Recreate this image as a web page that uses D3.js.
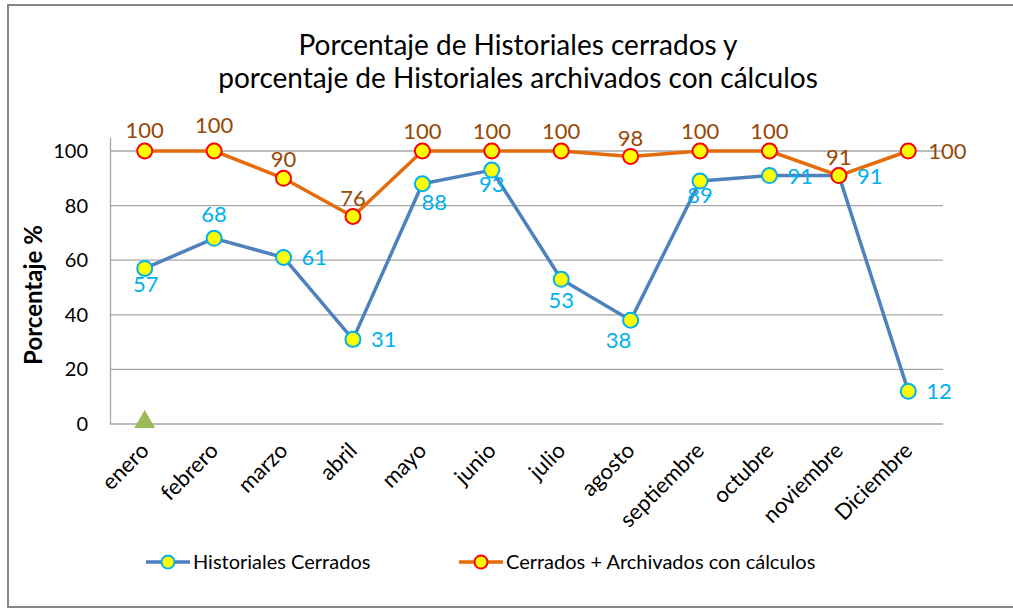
<!DOCTYPE html>
<html><head><meta charset="utf-8">
<script src="https://cdn.jsdelivr.net/npm/d3@7"></script>
<style>body{margin:0;background:#fff}svg{display:block}text{font-family:Lato,"Open Sans",sans-serif}</style>
</head><body>
<svg id="c" width="1013" height="609"></svg>
<script>
const months = ["enero","febrero","marzo","abril","mayo","junio","julio","agosto","septiembre","octubre","noviembre","Diciembre"];
const cerrados = [57,68,61,31,88,93,53,38,89,91,91,12];
const cerradosArchivados = [100,100,90,76,100,100,100,98,100,100,91,100];
const marcador = [0,null,null,null,null,null,null,null,null,null,null,null];
const yTicks = [0,20,40,60,80,100];
const titleLines = ["Porcentaje de Historiales cerrados y","porcentaje de Historiales archivados con cálculos"];
const yTitle = "Porcentaje %";
const seriesNames = ["Historiales Cerrados","Cerrados + Archivados con cálculos"];
// label placement (dx, dy relative to point, anchor)
const posCerrados = [[1,24,"middle"],[0,-16,"middle"],[18,8,"start"],[18,8,"start"],[12,26,"middle"],[0,22,"middle"],[0,29,"middle"],[-12,28,"middle"],[0,22,"middle"],[18,8,"start"],[18,8,"start"],[18,8,"start"]];
const posArch = [[0,-13,"middle"],[0,-18,"middle"],[0,-11,"middle"],[0,-11,"middle"],[0,-12,"middle"],[0,-12,"middle"],[0,-12,"middle"],[0,-10,"middle"],[0,-12,"middle"],[0,-12,"middle"],[0,-11,"middle"],[20,8,"start"]];

const svg = d3.select("#c");
svg.append("rect").attr("x",8).attr("y",5).attr("width",1010).attr("height",602)
  .attr("fill","#fff").attr("stroke","#868686").attr("stroke-width",2);

const L=110, R=943, T=424-105*273/100, B=424;
const x = d3.scalePoint().domain(months).range([L,R]).padding(0.5);
const y = d3.scaleLinear().domain([0,105]).range([B,T]);

// title
svg.append("g").selectAll("text").data(titleLines).join("text")
  .attr("x",518).attr("y",(d,i)=>55+i*33).attr("text-anchor","middle")
  .attr("font-size",28).attr("fill","#000").text(d=>d);

// grid
svg.append("g").selectAll("line").data(yTicks.filter(t=>t>0)).join("line")
  .attr("x1",L).attr("x2",R).attr("y1",d=>y(d)).attr("y2",d=>y(d))
  .attr("stroke","#a6a6a6").attr("stroke-width",1.3);

// y axis
const ya = svg.append("g").attr("transform",`translate(${L},0)`).call(d3.axisLeft(y).tickValues(yTicks).tickSize(0).tickPadding(22));
ya.select(".domain").attr("stroke","#a6a6a6").attr("stroke-width",1.3);
ya.selectAll("text").attr("font-size",20).attr("fill","#000").attr("font-family","Lato,sans-serif");

// x axis
const xa = svg.append("g").attr("transform",`translate(0,${B})`).call(d3.axisBottom(x).tickSize(0).tickPadding(0));
xa.select(".domain").attr("stroke","#a6a6a6").attr("stroke-width",1.3).attr("d",`M${L},0H${R}`);
xa.selectAll("text").attr("font-size",22).attr("fill","#000").attr("font-family","Lato,sans-serif")
  .attr("text-anchor","end").attr("dy",0)
  .attr("transform","translate(5,28) rotate(-45)");

// y title
svg.append("text").attr("transform","translate(42,295) rotate(-90)").attr("text-anchor","middle")
  .attr("font-size",24).attr("font-weight","bold").attr("fill","#000").text(yTitle);

const line = d3.line().x((d,i)=>x(months[i])).y(d=>y(d));

function drawSeries(vals, lineCol, mStroke){
  const g = svg.append("g");
  g.append("path").attr("d",line(vals)).attr("fill","none").attr("stroke",lineCol).attr("stroke-width",3.5).attr("stroke-linejoin","round");
  g.selectAll("circle").data(vals).join("circle")
    .attr("cx",(d,i)=>x(months[i])).attr("cy",d=>y(d)).attr("r",7.5)
    .attr("fill","#ffff00").attr("stroke",mStroke).attr("stroke-width",2);
}
function drawLabels(vals, lblCol, pos){
  svg.append("g").selectAll("text").data(vals).join("text")
    .attr("x",(d,i)=>x(months[i])+pos[i][0]).attr("y",(d,i)=>y(d)+pos[i][1])
    .attr("text-anchor",(d,i)=>pos[i][2]).attr("font-size",22).attr("fill",lblCol).text(d=>d);
}
drawSeries(cerrados,"#4f81bd","#00b0f0");
drawSeries(cerradosArchivados,"#e46c0a","#ff0000");
drawLabels(cerrados,"#00b0f0",posCerrados);
drawLabels(cerradosArchivados,"#974806",posArch);

// green triangle marker series
svg.append("g").selectAll("path").data(marcador.map((v,i)=>[v,i]).filter(d=>d[0]!==null)).join("path")
  .attr("d",d3.symbol().type(d3.symbolTriangle).size(190))
  .attr("transform",d=>`translate(${x(months[d[1]])},${y(d[0])-2})`)
  .attr("fill","#9bbb59");

// legend
const leg = [{name:seriesNames[0],lc:"#4f81bd",mc:"#00b0f0",x:146},{name:seriesNames[1],lc:"#e46c0a",mc:"#ff0000",x:459}];
const lg = svg.append("g").selectAll("g").data(leg).join("g").attr("transform",d=>`translate(${d.x},562)`);
lg.append("line").attr("x1",0).attr("x2",44).attr("stroke",d=>d.lc).attr("stroke-width",3.5);
lg.append("circle").attr("cx",22).attr("r",6.5).attr("fill","#ffff00").attr("stroke",d=>d.mc).attr("stroke-width",2);
lg.append("text").attr("x",47).attr("y",7).attr("font-size",20).attr("fill","#000").text(d=>d.name);
</script>
</body></html>
